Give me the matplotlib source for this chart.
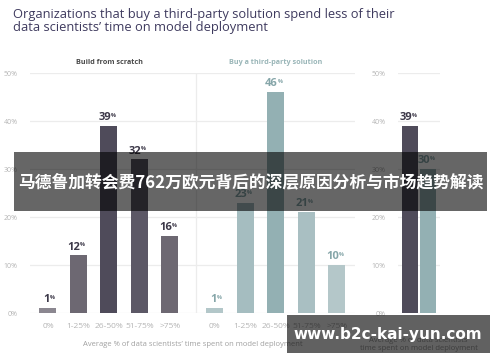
import matplotlib
matplotlib.use("Agg")
import matplotlib.pyplot as plt
from matplotlib.patches import Rectangle

# ---- data ----
categories = ["0%", "1-25%", "26-50%", "51-75%", ">75%"]
build_values = [1, 12, 39, 32, 16]
buy_values = [1, 23, 46, 21, 10]
avg_labels = ["Build from scratch", "Buy a third-party solution"]
avg_values = [39, 30]
y_ticks = [0, 10, 20, 30, 40, 50]

build_colors = ["#8b8790", "#6d6872", "#4f4b5a", "#5c5866", "#6d6872"]
buy_colors = ["#b3c7c9", "#a5bdc0", "#93b0b3", "#a9bfc2", "#b4c7c9"]
avg_colors = ["#4f4b5a", "#93b0b3"]
dark_txt = "#3c3848"
teal_txt = "#86a6a9"
grid_c = "#ececec"
tick_c = "#b5b5b5"

W, H = 500, 362
fig = plt.figure(figsize=(W / 100, H / 100), dpi=100)
fig.patch.set_facecolor("white")
plt.rcParams["font.family"] = ["Open Sans", "DejaVu Sans"]


def px_axes(x0, y0, x1, y1):
    # pixel box (top-left origin) -> axes
    return fig.add_axes([x0 / W, 1 - y1 / H, (x1 - x0) / W, (y1 - y0) / H])


def bar_label(ax, x, v, color, fs=8):
    ax.annotate(f"{v}", (x, v), xytext=(1.5, 2), textcoords="offset points",
                ha="right", va="bottom", fontsize=fs, fontweight="bold", color=color)
    ax.annotate("%", (x, v), xytext=(1.1, 5.8), textcoords="offset points",
                ha="left", va="bottom", fontsize=4, fontweight="bold", color=color)


def style(ax):
    ax.set_ylim(0, 50)
    for s in ax.spines.values():
        s.set_visible(False)
    ax.set_yticks(y_ticks)
    ax.yaxis.grid(True, color=grid_c, linewidth=0.9)
    ax.set_axisbelow(True)
    ax.tick_params(axis="y", length=0, pad=9, labelsize=5, labelcolor=tick_c)
    ax.set_yticklabels([f"{t}%" for t in y_ticks])
    ax.tick_params(axis="x", length=0, pad=7, labelsize=6, labelcolor=tick_c)


# ---- main panel ----
ax = px_axes(30, 73, 355, 313)
step = 30.5
xb = [i for i in range(len(categories))]
xs = [5.475 + i for i in range(len(categories))]
bw = 17 / step
ax.bar(xb, build_values, width=bw, color=build_colors, zorder=2)
ax.bar(xs, buy_values, width=bw, color=buy_colors, zorder=2)
ax.set_xlim(-0.59, 10.07)
style(ax)
ax.set_xticks(xb + xs)
ax.set_xticklabels(categories + categories)
ax.axvline(4.85, color=grid_c, linewidth=0.9, zorder=1)
for x, v in zip(xb, build_values):
    bar_label(ax, x, v, dark_txt)
for x, v in zip(xs, buy_values):
    bar_label(ax, x, v, teal_txt)
ax.set_xlabel("Average % of data scientists\u2019 time spent on model deployment",
              fontsize=5.5, color="#a0a0a0", labelpad=8)
ax.text(2, 51.5, avg_labels[0], ha="center", va="bottom", fontsize=5.2,
        fontweight="bold", color="#4a4a4a")
ax.text(7.475, 51.5, avg_labels[1], ha="center", va="bottom", fontsize=5.2,
        fontweight="bold", color="#9ab6b8")

# ---- average panel ----
ax2 = px_axes(398, 73, 440, 313)
ax2.bar([0, 1], avg_values, width=16 / 18, color=avg_colors, zorder=2)
ax2.set_xlim(-0.67, 1.67)
style(ax2)
ax2.set_xticks([])
for x, v, c in zip([0, 1], avg_values, [dark_txt, teal_txt]):
    bar_label(ax2, x, v, c)
ax2.text(0.5, -0.1, "Average % of data scientists\u2019\ntime spent on model deployment",
         transform=ax2.transAxes, ha="center", va="top", fontsize=5.5, color="#a0a0a0",
         linespacing=1.3)

# ---- title ----
fig.text(13 / W, 1 - 8 / H,
         "Organizations that buy a third-party solution spend less of their\n"
         "data scientists\u2019 time on model deployment",
         ha="left", va="top", fontsize=9.3, color="#3e3a5e", linespacing=0.95)

# ---- overlays ----
fig.patches.append(Rectangle((14 / W, 1 - 211 / H), (487 - 14) / W, (211 - 152) / H,
                             transform=fig.transFigure, facecolor="black", alpha=0.6,
                             edgecolor="none", zorder=10))
fig.text(250.5 / W, 1 - 182 / H, "马德鲁加转会费762万欧元背后的深层原因分析与市场趋势解读",
         ha="center", va="center", fontsize=12.1, fontweight="bold", color="white",
         family=["Noto Sans CJK SC", "DejaVu Sans"], zorder=11)
fig.patches.append(Rectangle((287 / W, 1 - 353 / H), (490 - 287) / W, (353 - 315) / H,
                             transform=fig.transFigure, facecolor="black", alpha=0.62,
                             edgecolor="none", zorder=10))
fig.text(388 / W, 1 - 335 / H, "www.b2c-kai-yun.com", ha="center", va="center",
         fontsize=11, fontweight="bold", color="white",
         family=["DejaVu Sans"], zorder=11)

fig.savefig("out.png", dpi=100)
